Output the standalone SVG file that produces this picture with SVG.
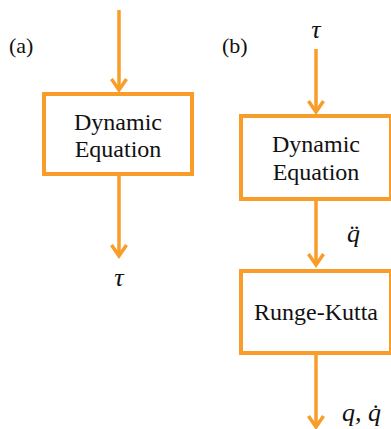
<svg xmlns="http://www.w3.org/2000/svg" width="391" height="429" viewBox="0 0 391 429">
  <style>
    .box { fill: #ffffff; stroke: #F99D2A; stroke-width: 4; }
    .wire { fill: none; stroke: #F99D2A; stroke-width: 3.5; marker-end: url(#arr); }
    .lbl { font-size: 24px; fill: #111; text-anchor: middle; }
    .cap { font-size: 22px; fill: #111; }
    .math { font-style: italic; font-size: 26px; fill: #111; }
  </style>
  <defs>
    <marker id="arr" markerUnits="userSpaceOnUse" viewBox="-14 -10 16 20" refX="0" refY="0" markerWidth="16" markerHeight="20" orient="auto" overflow="visible">
      <path d="M-11,-7.5 L0,0 L-11,7.5" fill="none" stroke="#F99D2A" stroke-width="3.5" stroke-linejoin="miter"/>
    </marker>
  </defs>
  <rect width="391" height="429" fill="#ffffff"/>

  <g font-family="Liberation Serif, Times New Roman, serif">
    <text class="cap" x="9" y="53">(a)</text>
    <text class="cap" x="222" y="53">(b)</text>

    <g id="connectors">
      <path class="wire" d="M119,10 L119,90"/>
      <path class="wire" d="M119,176 L119,256"/>
      <path class="wire" d="M316,49 L316,112"/>
      <path class="wire" d="M316,201 L316,265"/>
      <path class="wire" d="M316,355 L316,427"/>
    </g>

    <g id="a_dynamic">
      <rect class="box" x="44" y="94" width="148" height="80"/>
      <text class="lbl" x="118" y="130">Dynamic</text>
      <text class="lbl" x="118" y="157">Equation</text>
    </g>

    <g id="a_tau">
      <text class="math" x="119" y="286" text-anchor="middle">τ</text>
    </g>

    <g id="b_tau">
      <text class="math" x="316" y="38" text-anchor="middle">τ</text>
    </g>

    <g id="b_dynamic">
      <rect class="box" x="241" y="116" width="150" height="83"/>
      <text class="lbl" x="316" y="152">Dynamic</text>
      <text class="lbl" x="316" y="180">Equation</text>
    </g>

    <g id="b_qdd">
      <text class="math" x="347" y="242">q̈</text>
    </g>

    <g id="b_rk">
      <rect class="box" x="241" y="271" width="150" height="82"/>
      <text class="lbl" x="316" y="320">Runge-Kutta</text>
    </g>

    <g id="b_out">
      <text class="math" x="342" y="421">q, q̇</text>
    </g>
  </g>
</svg>
